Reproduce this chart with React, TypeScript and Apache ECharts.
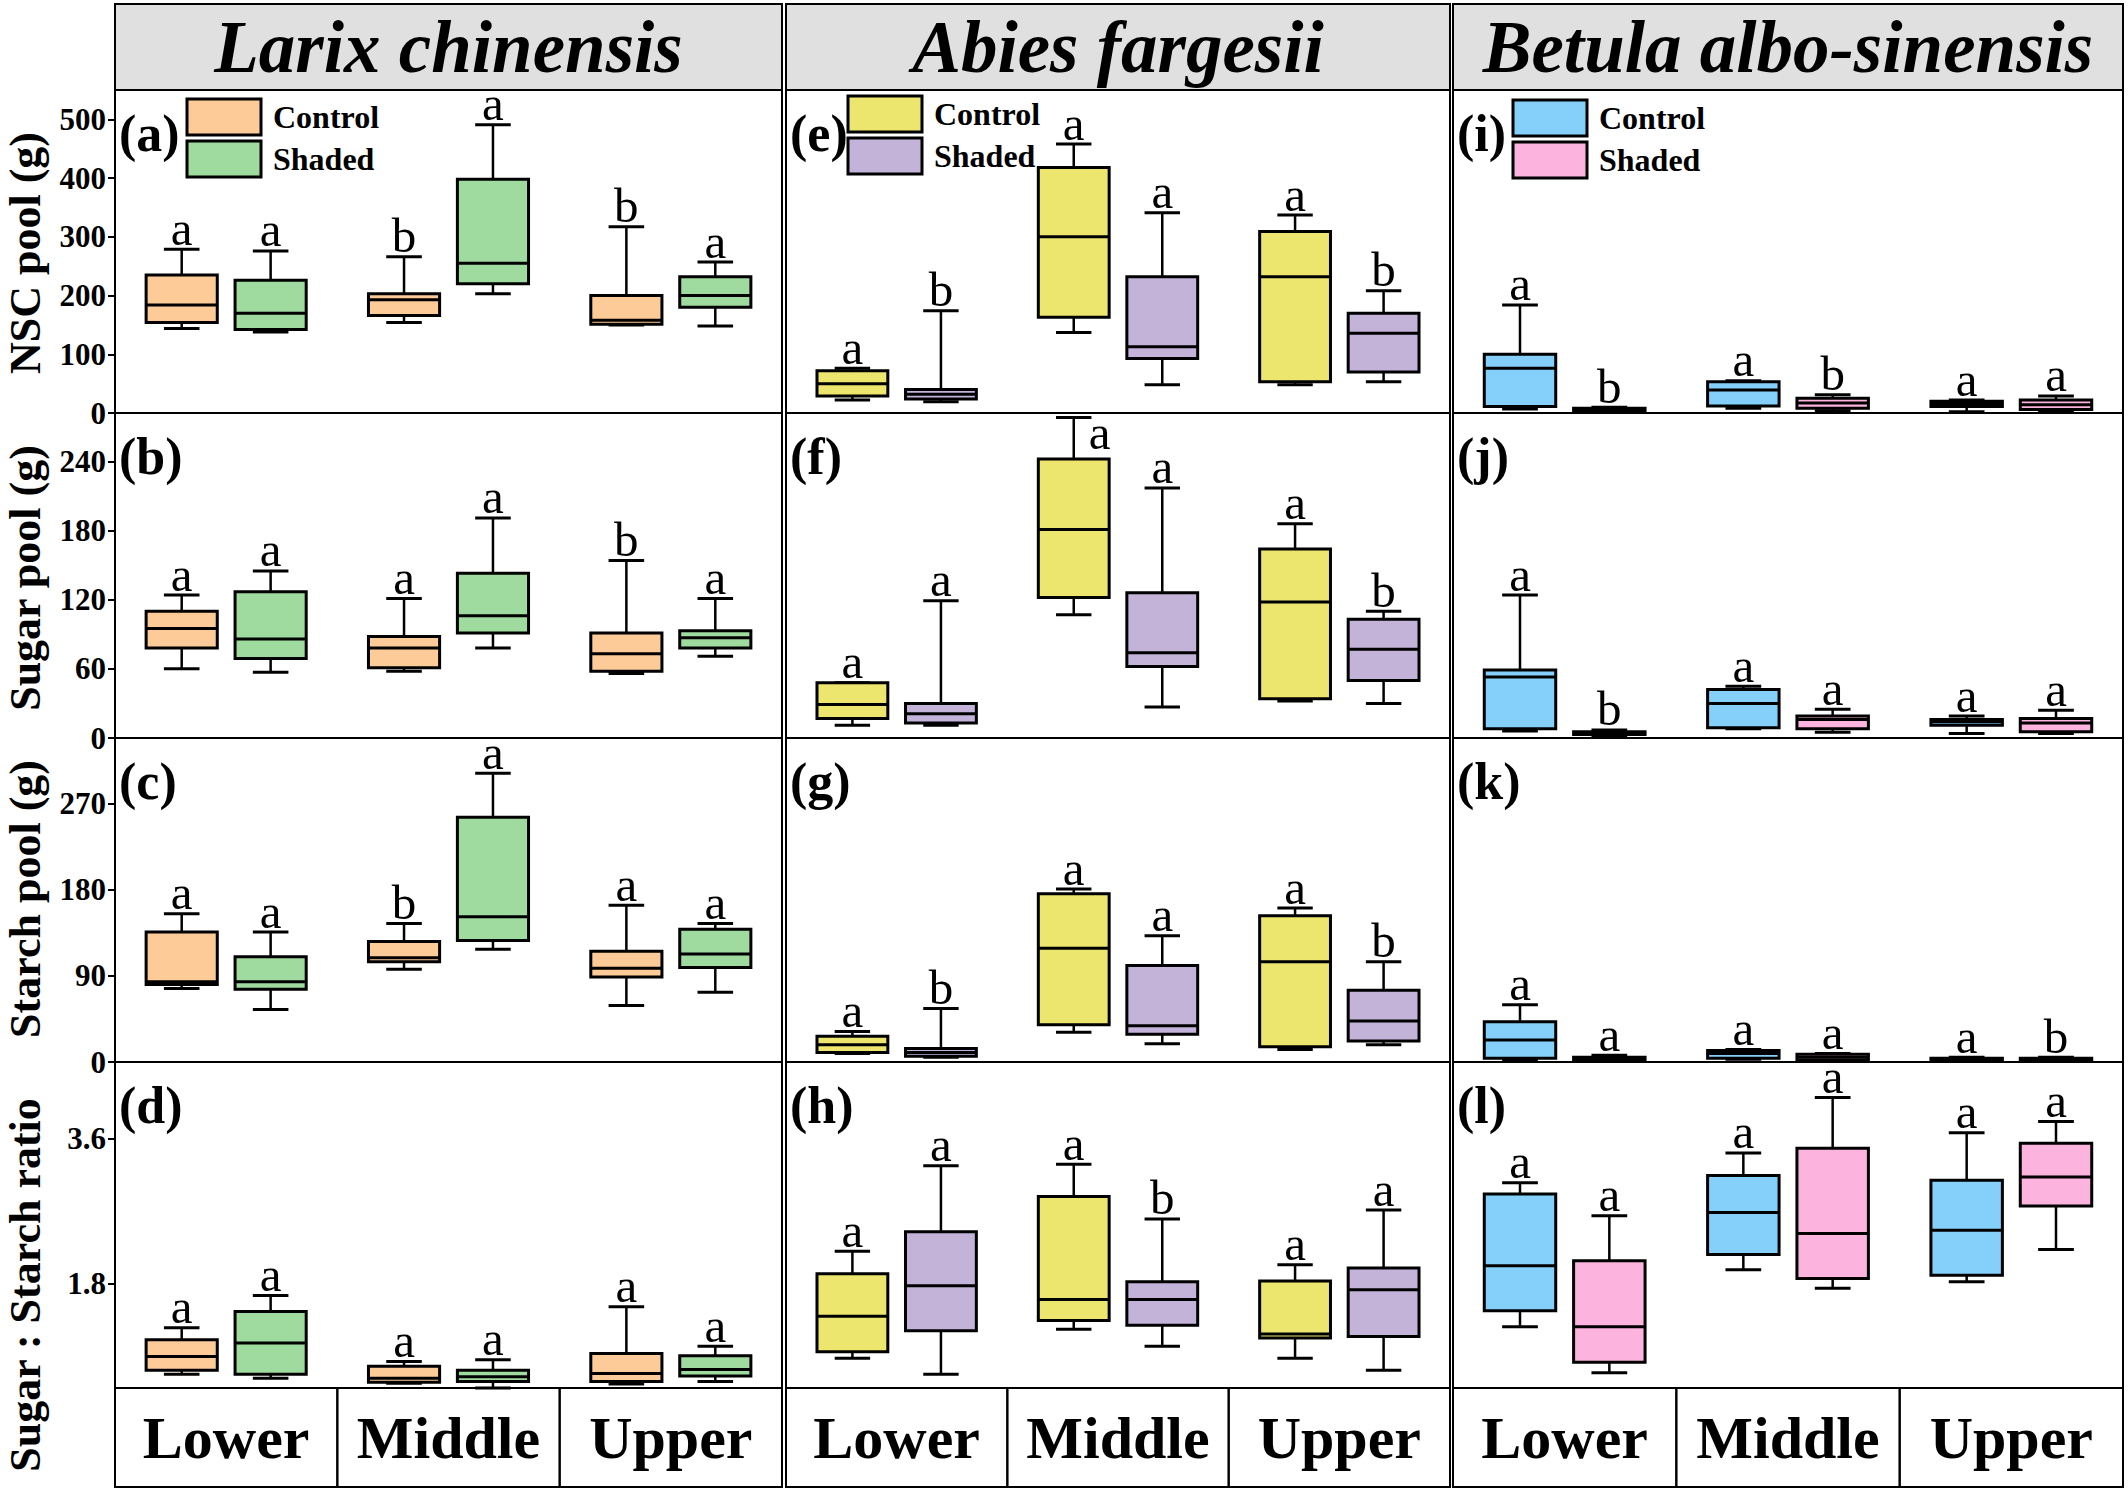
import React, { useEffect, useRef } from 'react';
import * as echarts from 'echarts';

// ---------- labels ----------
const CATEGORIES = ['Lower', 'Middle', 'Upper'];
const SPECIES = ['Larix chinensis', 'Abies fargesii', 'Betula albo-sinensis'];
const TREATMENTS = ['Control', 'Shaded'];
const ROW_TITLES = ['NSC pool (g)', 'Sugar pool (g)', 'Starch pool (g)', 'Sugar : Starch ratio'];
const PANEL_TAGS = [
  ['(a)', '(b)', '(c)', '(d)'],
  ['(e)', '(f)', '(g)', '(h)'],
  ['(i)', '(j)', '(k)', '(l)'],
];

// ---------- axes ----------
const Y_MIN = [0, 0, 0, 0.5];
const Y_MAX = [550, 282, 339, 4.55];
const Y_TICKS = [
  [0, 100, 200, 300, 400, 500],
  [0, 60, 120, 180, 240],
  [0, 90, 180, 270],
  [1.8, 3.6],
];

// ---------- data: [lower whisker, Q1, median, Q3, upper whisker] per category ----------
// Larix chinensis
const larixNscControl = [[144, 154, 184, 235, 279], [154, 166, 193, 203, 266], [150, 151, 158, 200, 317]];
const larixNscShaded = [[138, 142, 170, 226, 276], [203, 220, 255, 398, 491], [148, 180, 200, 232, 257]];
const larixSugarControl = [[60, 78, 95, 110, 124], [58, 61, 78, 88, 121], [56, 58, 73, 91, 154]];
const larixSugarShaded = [[57, 69, 86, 127, 145], [78, 91, 106, 143, 191], [71, 78, 87, 93, 121]];
const larixStarchControl = [[77, 81, 84, 136, 155], [97, 105, 109, 126, 145], [59, 89, 98, 116, 164]];
const larixStarchShaded = [[55, 76, 84, 110, 136], [118, 127, 152, 256, 302], [73, 99, 113, 139, 145]];
const larixRatioControl = [[0.67, 0.72, 0.89, 1.1, 1.25], [0.56, 0.57, 0.62, 0.77, 0.83], [0.55, 0.58, 0.68, 0.93, 1.51]];
const larixRatioShaded = [[0.62, 0.67, 1.06, 1.45, 1.65], [0.5, 0.58, 0.64, 0.72, 0.85], [0.58, 0.65, 0.73, 0.9, 1.02]];
// Abies fargesii
const abiesNscControl = [[22, 29, 50, 72, 76], [137, 163, 300, 418, 458], [48, 53, 232, 309, 337]];
const abiesNscShaded = [[19, 24, 32, 40, 174], [48, 93, 113, 232, 341], [53, 70, 136, 170, 208]];
const abiesSugarControl = [[11, 17, 29, 48, 48], [107, 122, 181, 242, 278], [32, 34, 118, 164, 186]];
const abiesSugarShaded = [[11, 13, 21, 30, 119], [27, 62, 74, 126, 217], [30, 50, 77, 103, 110]];
const abiesStarchControl = [[9, 10, 18, 27, 32], [31, 39, 119, 176, 181], [13, 16, 105, 153, 161]];
const abiesStarchShaded = [[5, 6, 10, 14, 56], [19, 29, 38, 101, 132], [18, 22, 43, 75, 105]];
const abiesRatioControl = [[0.87, 0.95, 1.39, 1.92, 2.2], [1.23, 1.34, 1.6, 2.88, 3.28], [0.87, 1.12, 1.17, 1.83, 2.03]];
const abiesRatioShaded = [[0.67, 1.21, 1.77, 2.44, 3.26], [1.02, 1.28, 1.6, 1.82, 2.6], [0.72, 1.14, 1.72, 1.99, 2.71]];
// Betula albo-sinensis
const betulaNscControl = [[7, 11, 76, 100, 184], [8, 12, 39, 53, 55], [2, 11, 16, 20, 22]];
const betulaNscShaded = [[2, 4, 6, 8, 10], [4, 8, 17, 25, 31], [4, 6, 14, 22, 29]];
const betulaSugarControl = [[6, 8, 53, 59, 124], [8, 9, 30, 42, 45], [4, 11, 14, 16, 19]];
const betulaSugarShaded = [[2, 3, 4, 5.5, 7], [5, 8, 16, 19, 25], [4, 5.5, 13, 17, 24]];
const betulaStarchControl = [[2, 4, 23, 42, 60], [3, 4, 9, 12, 13], [1, 2, 3, 4, 5]];
const betulaStarchShaded = [[1, 2, 4, 5, 7], [1, 2, 5, 8, 9], [1, 2, 3, 4, 5]];
const betulaRatioControl = [[1.26, 1.46, 2.02, 2.91, 3.05], [1.97, 2.16, 2.68, 3.14, 3.42], [1.82, 1.9, 2.46, 3.08, 3.67]];
const betulaRatioShaded = [[0.69, 0.82, 1.26, 2.08, 2.64], [1.74, 1.86, 2.42, 3.48, 4.11], [2.22, 2.76, 3.12, 3.54, 3.81]];

// ---------- significance letters [control, shaded] per category ----------
const larixLetters = [
  [['a', 'b', 'b'], ['a', 'a', 'a']],
  [['a', 'a', 'b'], ['a', 'a', 'a']],
  [['a', 'b', 'a'], ['a', 'a', 'a']],
  [['a', 'a', 'a'], ['a', 'a', 'a']],
];
const abiesLetters = [
  [['a', 'a', 'a'], ['b', 'a', 'b']],
  [['a', 'a', 'a'], ['a', 'a', 'b']],
  [['a', 'a', 'a'], ['b', 'a', 'b']],
  [['a', 'a', 'a'], ['a', 'b', 'a']],
];
const betulaLetters = [
  [['a', 'a', 'a'], ['b', 'b', 'a']],
  [['a', 'a', 'a'], ['b', 'a', 'a']],
  [['a', 'a', 'a'], ['a', 'a', 'b']],
  [['a', 'a', 'a'], ['a', 'a', 'a']],
];

const BOXES = [
  [[larixNscControl, larixNscShaded], [larixSugarControl, larixSugarShaded], [larixStarchControl, larixStarchShaded], [larixRatioControl, larixRatioShaded]],
  [[abiesNscControl, abiesNscShaded], [abiesSugarControl, abiesSugarShaded], [abiesStarchControl, abiesStarchShaded], [abiesRatioControl, abiesRatioShaded]],
  [[betulaNscControl, betulaNscShaded], [betulaSugarControl, betulaSugarShaded], [betulaStarchControl, betulaStarchShaded], [betulaRatioControl, betulaRatioShaded]],
];
const LETTERS = [larixLetters, abiesLetters, betulaLetters];

// ---------- styling ----------
const COLORS = [
  ['#FCCB98', '#9FDA9E'],
  ['#ECE56E', '#C3B3D8'],
  ['#84D0FB', '#FCB3DD'],
];
const SERIF = '"Liberation Serif", "Times New Roman", serif';

// ---------- layout (px) ----------
const COL_L = [115, 786, 1453];
const COL_R = [782, 1450, 2123];
const ROW_T = [90, 413, 738, 1062];
const ROW_B = [413, 738, 1062, 1388];
const HEADER_T = 4;
const FOOT_B = 1487;
const BOX_OFFSET = [-0.2, 0.2];
const BOX_W = 0.32;
const CAP_W = 0.16;
const LEG_DX = [72, 62, 60];
const LEG_Y = [99, 96, 100];
const NAME_Y = [253, 578, 899, 1285];

function makeRender(color: string, letters: string[]) {
  return (params: any, api: any) => {
    const x = api.value(0);
    const lo = api.coord([x, api.value(1)]);
    const q1 = api.coord([x, api.value(2)]);
    const md = api.coord([x, api.value(3)]);
    const q3 = api.coord([x, api.value(4)]);
    const hi = api.coord([x, api.value(5)]);
    const bw = api.size([BOX_W, 0])[0];
    const cw = api.size([CAP_W, 0])[0];
    const cx = lo[0];
    const top = params.coordSys.y;
    const letter = letters[params.dataIndex];
    const above = hi[1] - 32 >= top - 4;
    const tx = above ? cx : cx + 15;
    const ty = above ? hi[1] - 21 : hi[1] + 15;
    const ln = (x1: number, y1: number, x2: number, y2: number, w: number) => ({
      type: 'line',
      shape: { x1, y1, x2, y2 },
      style: { stroke: '#000', lineWidth: w },
    });
    return {
      type: 'group',
      children: [
        ln(cx, hi[1], cx, q3[1], 2.5),
        ln(cx, q1[1], cx, lo[1], 2.5),
        ln(cx - cw / 2, hi[1], cx + cw / 2, hi[1], 3),
        ln(cx - cw / 2, lo[1], cx + cw / 2, lo[1], 3),
        {
          type: 'rect',
          shape: { x: cx - bw / 2, y: q3[1], width: bw, height: Math.max(q1[1] - q3[1], 0.5) },
          style: { fill: color, stroke: '#000', lineWidth: 3 },
        },
        ln(cx - bw / 2, md[1], cx + bw / 2, md[1], 3),
        {
          type: 'text',
          style: {
            text: letter,
            x: tx,
            y: ty,
            font: `49px ${SERIF}`,
            lineHeight: 26,
            fill: '#000',
            textAlign: above ? 'center' : 'left',
            textVerticalAlign: 'middle',
            align: above ? 'center' : 'left',
            verticalAlign: 'middle',
          },
        },
      ],
    };
  };
}

function buildOption() {
  const grid: any[] = [];
  const xAxis: any[] = [];
  const yAxis: any[] = [];
  const series: any[] = [];
  const graphic: any[] = [];

  for (let c = 0; c < 3; c++) {
    const w = COL_R[c] - COL_L[c];
    for (let r = 0; r < 4; r++) {
      const idx = c * 4 + r;
      grid.push({
        left: COL_L[c],
        top: ROW_T[r],
        width: w,
        height: ROW_B[r] - ROW_T[r],
        show: true,
        borderColor: '#000',
        borderWidth: 2,
        backgroundColor: 'transparent',
        containLabel: false,
      });
      xAxis.push({
        gridIndex: idx,
        type: 'value',
        min: 0,
        max: 3,
        axisLine: { show: false },
        axisTick: { show: false },
        splitLine: { show: false },
        axisLabel:
          r === 3
            ? {
                show: true,
                customValues: [0.5, 1.5, 2.5],
                formatter: (v: number) => CATEGORIES[Math.floor(v)],
                fontSize: 60,
                fontWeight: 'bold',
                fontFamily: SERIF,
                color: '#000',
                margin: 20,
              }
            : { show: false },
      });
      yAxis.push({
        gridIndex: idx,
        type: 'value',
        min: Y_MIN[r],
        max: Y_MAX[r],
        axisLine: { show: c === 0, lineStyle: { color: '#000', width: 2 } },
        axisTick: {
          show: c === 0,
          customValues: Y_TICKS[r],
          length: 7,
          lineStyle: { color: '#000', width: 2 },
        },
        axisLabel: {
          show: c === 0,
          customValues: Y_TICKS[r],
          fontSize: 31,
          fontWeight: 'bold',
          fontFamily: SERIF,
          color: '#000',
          margin: 9,
        },
        splitLine: { show: false },
      });
      for (let t = 0; t < 2; t++) {
        const vals = BOXES[c][r][t];
        series.push({
          type: 'custom',
          name: TREATMENTS[t],
          xAxisIndex: idx,
          yAxisIndex: idx,
          encode: { x: 0, y: [1, 2, 3, 4, 5] },
          data: CATEGORIES.map((_, i) => [i + 0.5 + BOX_OFFSET[t], ...vals[i]]),
          renderItem: makeRender(COLORS[c][t], LETTERS[c][r][t]),
          clip: false,
          z: 3,
        });
      }
      // panel tag
      graphic.push({
        type: 'text',
        x: COL_L[c] + 4,
        y: ROW_T[r] + 43,
        z: 10,
        style: {
          text: PANEL_TAGS[c][r],
          font: `bold 52px ${SERIF}`,
          fill: '#000',
          textAlign: 'left',
          textVerticalAlign: 'middle',
        },
      });
    }
    // header
    graphic.push({
      type: 'rect',
      shape: { x: COL_L[c], y: HEADER_T, width: w, height: ROW_T[0] - HEADER_T },
      style: { fill: '#E0E0E0', stroke: '#000', lineWidth: 2 },
      z: 1,
    });
    graphic.push({
      type: 'text',
      x: COL_L[c] + w / 2,
      y: (HEADER_T + ROW_T[0]) / 2,
      z: 2,
      style: {
        text: SPECIES[c],
        font: `italic bold 73px ${SERIF}`,
        lineHeight: 56,
        fill: '#000',
        textAlign: 'center',
        textVerticalAlign: 'middle',
      },
    });
    // footer cells
    for (let i = 0; i < 3; i++) {
      graphic.push({
        type: 'rect',
        shape: { x: COL_L[c] + (i * w) / 3, y: ROW_B[3], width: w / 3, height: FOOT_B - ROW_B[3] },
        style: { fill: 'none', stroke: '#000', lineWidth: 2 },
        z: 1,
      });
    }
    // legend
    for (let t = 0; t < 2; t++) {
      const lx = COL_L[c] + LEG_DX[c];
      const ly = LEG_Y[c] + t * 42;
      graphic.push({
        type: 'rect',
        shape: { x: lx, y: ly, width: 74, height: 36 },
        style: { fill: COLORS[c][t], stroke: '#000', lineWidth: 3 },
        z: 10,
      });
      graphic.push({
        type: 'text',
        x: lx + 86,
        y: ly + 18,
        z: 10,
        style: {
          text: TREATMENTS[t],
          font: `bold 32px ${SERIF}`,
          fill: '#000',
          textAlign: 'left',
          textVerticalAlign: 'middle',
        },
      });
    }
  }
  // row titles
  for (let r = 0; r < 4; r++) {
    graphic.push({
      type: 'text',
      x: 25,
      y: NAME_Y[r],
      rotation: Math.PI / 2,
      z: 10,
      style: {
        text: ROW_TITLES[r],
        font: `bold 44px ${SERIF}`,
        fill: '#000',
        textAlign: 'center',
        textVerticalAlign: 'middle',
      },
    });
  }

  return {
    animation: false,
    backgroundColor: '#fff',
    grid,
    xAxis,
    yAxis,
    series,
    graphic: { elements: graphic },
  };
}

export default function App() {
  const ref = useRef<HTMLDivElement>(null);
  useEffect(() => {
    document.body.style.margin = '0';
    document.body.style.overflow = 'hidden';
    const chart = echarts.init(ref.current!, null, { renderer: 'svg' });
    chart.setOption(buildOption() as any);
    return () => chart.dispose();
  }, []);
  return <div ref={ref} style={{ width: 2128, height: 1494 }} />;
}
